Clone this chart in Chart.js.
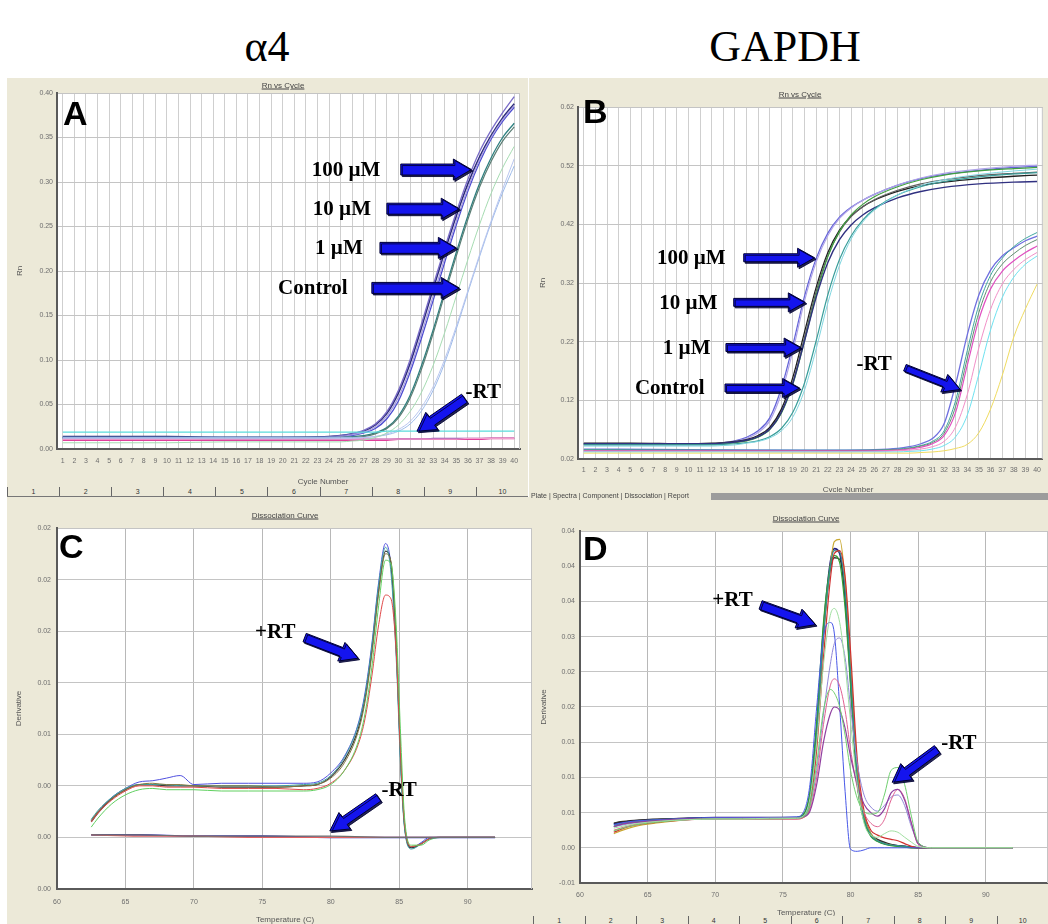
<!DOCTYPE html>
<html>
<head>
<meta charset="utf-8">
<script src="https://cdn.jsdelivr.net/npm/chart.js@4.4.1/dist/chart.umd.min.js"></script>
<style>
  body { margin: 0; background: #fff; width: 1048px; height: 924px; position: relative; overflow: hidden; }
  .head { position: absolute; top: 25px; height: 44px; line-height: 44px; text-align: center;
          font-family: 'Liberation Serif', 'Times New Roman', serif; font-size: 44px; color: #000; }
  .panel { position: absolute; background: #ece9d8; }
  .panel canvas { display: block; }
  .lbl { position: absolute; transform: translate(-50%, -50%); white-space: nowrap;
         font-family: 'Liberation Sans', Arial, sans-serif; font-size: 8px; color: #555; }
  .ttl { text-decoration: underline; color: #444; }
  .tabs { position: absolute; display: flex; background: #ece9d8; border-bottom: 1px solid #777;
          font-family: 'Liberation Sans', Arial, sans-serif; font-size: 7px; color: #333; }
  .tabs div { flex: 1; border-left: 1px solid #666; text-align: center; line-height: 9px; }
  .rtabs { position: absolute; left: 529px; top: 492px; width: 519px; height: 8px; background: #ece9d8; }
  .rtabs span { position: absolute; left: 2px; top: 0; font-family: 'Liberation Sans', Arial, sans-serif;
                font-size: 7px; line-height: 8px; color: #444; }
  .rtabs i { position: absolute; left: 182px; right: 0; top: 1px; height: 7px; background: #9c9c9c; }
</style>
</head>
<body>
<div class="head" style="left:0;width:534px">α4</div>
<div class="head" style="left:535px;width:500px">GAPDH</div>

<div class="panel" style="left:7px;top:78px;width:521px;height:409px"><canvas id="chartA" width="521" height="409"></canvas></div>
<div class="panel" style="left:529px;top:78px;width:519px;height:414px"><canvas id="chartB" width="519" height="414"></canvas></div>
<div class="panel" style="left:7px;top:497px;width:526px;height:427px"><canvas id="chartC" width="526" height="427"></canvas></div>
<div class="panel" style="left:533px;top:500px;width:515px;height:424px"><canvas id="chartD" width="515" height="424"></canvas></div>

<div class="lbl ttl" style="left:283px;top:85px">Rn vs Cycle</div>
<div class="lbl ttl" style="left:800px;top:94px">Rn vs Cycle</div>
<div class="lbl ttl" style="left:285px;top:515px">Dissociation Curve</div>
<div class="lbl ttl" style="left:806px;top:518px">Dissociation Curve</div>
<div class="lbl" style="left:323px;top:481px">Cycle Number</div>
<div class="lbl" style="left:848px;top:489px">Cycle Number</div>
<div class="lbl" style="left:285px;top:919px">Temperature (C)</div>
<div class="lbl" style="left:806px;top:912px">Temperature (C)</div>

<div class="tabs" style="left:7px;top:487px;width:521px;height:9px">
  <div>1</div><div>2</div><div>3</div><div>4</div><div>5</div><div>6</div><div>7</div><div>8</div><div>9</div><div>10</div>
</div>
<div class="rtabs"><span>Plate | Spectra | Component | Dissociation | Report</span><i></i></div>
<div class="tabs" style="left:533px;top:916px;width:515px;height:8px">
  <div>1</div><div>2</div><div>3</div><div>4</div><div>5</div><div>6</div><div>7</div><div>8</div><div>9</div><div>10</div>
</div>

<script>
// ---- tick values and labels ----
const cycleTicks = [1,2,3,4,5,6,7,8,9,10,11,12,13,14,15,16,17,18,19,20,21,22,23,24,25,26,27,28,29,30,31,32,33,34,35,36,37,38,39,40];
const cycleLabels = ["1","2","3","4","5","6","7","8","9","10","11","12","13","14","15","16","17","18","19","20",
                     "21","22","23","24","25","26","27","28","29","30","31","32","33","34","35","36","37","38","39","40"];
const rnTicksA = [0, 0.05, 0.10, 0.15, 0.20, 0.25, 0.30, 0.35, 0.40];
const rnLabelsA = ["0.00","0.05","0.10","0.15","0.20","0.25","0.30","0.35","0.40"];
const rnTicksB = [0.02, 0.12, 0.22, 0.32, 0.42, 0.52, 0.62];
const rnLabelsB = ["0.02","0.12","0.22","0.32","0.42","0.52","0.62"];
const tempTicks = [60, 65, 70, 75, 80, 85, 90];
const tempLabels = ["60","65","70","75","80","85","90"];
const derivTicksC = [-0.004, 0, 0.004, 0.008, 0.012, 0.016, 0.020, 0.024];
const derivLabelsC = ["0.00","0.00","0.00","0.01","0.01","0.02","0.02","0.02"];
const derivTicksD = [-0.005, 0, 0.005, 0.010, 0.015, 0.020, 0.025, 0.030, 0.035, 0.040, 0.045];
const derivLabelsD = ["-0.01","0.00","0.01","0.01","0.01","0.02","0.02","0.03","0.04","0.04","0.04"];

// ---- panel A: alpha4 amplification (Rn vs cycle) ----
const cyclesA = [1,5,10,15,20,24,25,26,27,28,29,30,31,32,33,34,35,36,37,38,39,40];
const rn100a = [0.013,0.013,0.013,0.013,0.013,0.014,0.015,0.017,0.021,0.028,0.042,0.066,0.100,0.141,0.184,0.226,0.266,0.303,0.334,0.358,0.378,0.396];
const rn100b = [0.014,0.014,0.014,0.013,0.013,0.014,0.015,0.017,0.020,0.027,0.040,0.063,0.096,0.137,0.180,0.222,0.262,0.298,0.328,0.352,0.372,0.388];
const rn10a  = [0.013,0.013,0.013,0.013,0.013,0.013,0.014,0.015,0.018,0.023,0.034,0.054,0.086,0.125,0.167,0.210,0.252,0.290,0.322,0.348,0.368,0.384];
const rn10b  = [0.012,0.012,0.012,0.012,0.012,0.013,0.014,0.016,0.019,0.025,0.037,0.058,0.090,0.130,0.172,0.215,0.256,0.293,0.325,0.350,0.370,0.386];
const rn1a   = [0.013,0.013,0.013,0.013,0.013,0.013,0.013,0.014,0.015,0.018,0.024,0.037,0.060,0.094,0.134,0.178,0.221,0.262,0.298,0.327,0.350,0.366];
const rn1b   = [0.012,0.012,0.012,0.012,0.012,0.012,0.013,0.013,0.014,0.017,0.023,0.035,0.057,0.090,0.130,0.174,0.217,0.258,0.294,0.323,0.346,0.362];
const rnCtrlA = [0.013,0.013,0.013,0.013,0.013,0.013,0.013,0.013,0.013,0.014,0.016,0.020,0.028,0.043,0.066,0.097,0.135,0.176,0.216,0.254,0.288,0.318];
const rnCtrlB = [0.007,0.007,0.007,0.008,0.008,0.008,0.008,0.009,0.010,0.013,0.018,0.027,0.042,0.064,0.094,0.131,0.172,0.213,0.252,0.287,0.316,0.340];
const rnCtrlC = [0.012,0.012,0.012,0.012,0.012,0.012,0.012,0.012,0.013,0.014,0.017,0.022,0.031,0.047,0.070,0.101,0.138,0.178,0.218,0.256,0.292,0.326];
const rnRtCyan    = [0.019,0.019,0.019,0.019,0.019,0.019,0.019,0.019,0.019,0.019,0.020,0.020,0.020,0.020,0.020,0.020,0.020,0.020,0.020,0.020,0.020,0.020];
const rnRtMagenta = [0.010,0.010,0.010,0.010,0.010,0.010,0.010,0.010,0.010,0.010,0.010,0.011,0.011,0.011,0.011,0.011,0.011,0.011,0.011,0.012,0.012,0.012];
const rnRtPurple  = [0.012,0.012,0.012,0.011,0.011,0.011,0.011,0.011,0.011,0.011,0.011,0.011,0.011,0.011,0.012,0.012,0.012,0.012,0.012,0.012,0.012,0.012];
const rnRtPink    = [0.011,0.011,0.011,0.011,0.011,0.011,0.011,0.011,0.011,0.011,0.011,0.011,0.011,0.011,0.011,0.011,0.011,0.012,0.012,0.012,0.012,0.012];

// ---- panel B: GAPDH amplification ----
const cyclesB = [1,5,10,12,13,14,15,16,17,18,19,20,21,22,23,24,25,26,28,30,32,35,38,40];
const gb100a  = [0.046,0.045,0.045,0.046,0.048,0.051,0.057,0.068,0.090,0.141,0.215,0.298,0.362,0.405,0.432,0.449,0.461,0.471,0.487,0.498,0.505,0.512,0.517,0.519];
const gb100b  = [0.044,0.044,0.044,0.045,0.047,0.050,0.055,0.065,0.085,0.132,0.205,0.290,0.356,0.401,0.430,0.448,0.461,0.471,0.487,0.499,0.507,0.514,0.519,0.521];
const gb10a   = [0.047,0.047,0.046,0.047,0.048,0.050,0.053,0.060,0.074,0.105,0.160,0.237,0.313,0.372,0.410,0.434,0.450,0.461,0.476,0.486,0.492,0.498,0.502,0.504];
const gb10b   = [0.046,0.046,0.045,0.046,0.047,0.049,0.052,0.058,0.071,0.100,0.152,0.228,0.306,0.367,0.407,0.433,0.450,0.462,0.478,0.489,0.496,0.503,0.507,0.509];
const gb1a    = [0.045,0.045,0.045,0.045,0.046,0.048,0.051,0.057,0.070,0.098,0.148,0.222,0.300,0.365,0.408,0.436,0.454,0.467,0.484,0.496,0.504,0.511,0.515,0.517];
const gb1b    = [0.046,0.046,0.046,0.046,0.047,0.049,0.052,0.058,0.071,0.100,0.150,0.222,0.296,0.355,0.394,0.419,0.436,0.448,0.465,0.476,0.483,0.489,0.492,0.493];
const gbCtrlA = [0.044,0.044,0.044,0.044,0.045,0.046,0.048,0.051,0.058,0.072,0.100,0.150,0.222,0.300,0.360,0.400,0.427,0.446,0.470,0.484,0.493,0.501,0.506,0.508];
const gbCtrlB = [0.042,0.042,0.042,0.042,0.043,0.044,0.047,0.050,0.056,0.068,0.092,0.138,0.208,0.286,0.350,0.395,0.424,0.444,0.470,0.486,0.496,0.505,0.511,0.514];
const cyclesBrt = [1,10,20,26,28,29,30,31,32,33,34,35,36,37,38,39,40];
const gbRt1 = [0.037,0.036,0.035,0.036,0.038,0.041,0.046,0.055,0.080,0.148,0.232,0.300,0.342,0.366,0.380,0.392,0.400];
const gbRt2 = [0.036,0.035,0.035,0.035,0.037,0.039,0.043,0.050,0.068,0.120,0.205,0.283,0.333,0.362,0.382,0.396,0.406];
const gbRt3 = [0.034,0.034,0.034,0.034,0.035,0.037,0.040,0.046,0.060,0.100,0.180,0.258,0.310,0.340,0.358,0.372,0.383];
const gbRt4 = [0.033,0.033,0.032,0.033,0.034,0.035,0.037,0.041,0.050,0.075,0.130,0.210,0.275,0.318,0.343,0.360,0.372];
const gbRt5 = [0.032,0.032,0.032,0.032,0.032,0.033,0.034,0.037,0.043,0.058,0.095,0.165,0.240,0.295,0.330,0.352,0.366];
const gbRt6 = [0.030,0.030,0.030,0.030,0.030,0.030,0.031,0.032,0.034,0.038,0.045,0.065,0.105,0.162,0.228,0.276,0.318];
const gbRt7 = [0.035,0.035,0.034,0.035,0.036,0.038,0.042,0.048,0.064,0.110,0.192,0.270,0.322,0.352,0.370,0.384,0.394];

// ---- panel C: alpha4 dissociation curve ----
const tempsC = [62.5,63,64,65,66,67,68,69,70,72,74,76,78,79,80,81,82,82.5,83,83.5,84,84.4,84.8,85.1,85.4,85.9,86.6,87.2,88,92];
const dcBlue  = [0.0013,0.0020,0.0031,0.0038,0.0043,0.0044,0.0046,0.0048,0.0041,0.0042,0.0042,0.0042,0.0042,0.0043,0.0050,0.0063,0.0088,0.0112,0.0150,0.0198,0.0228,0.0210,0.0140,0.0060,0.0008,-0.0008,-0.0004,0.0000,0.0000,0.0000];
const dcBlack = [0.0012,0.0019,0.0030,0.0037,0.0041,0.0041,0.0040,0.0040,0.0040,0.0039,0.0039,0.0039,0.0040,0.0041,0.0047,0.0060,0.0084,0.0108,0.0145,0.0192,0.0222,0.0212,0.0145,0.0062,0.0008,-0.0008,-0.0005,-0.0001,0.0000,0.0000];
const dcTeal  = [0.0014,0.0021,0.0031,0.0038,0.0041,0.0041,0.0041,0.0040,0.0040,0.0040,0.0040,0.0040,0.0041,0.0042,0.0048,0.0062,0.0087,0.0110,0.0148,0.0196,0.0225,0.0205,0.0135,0.0055,0.0006,-0.0009,-0.0005,-0.0001,0.0000,0.0000];
const dcRed   = [0.0012,0.0019,0.0029,0.0036,0.0040,0.0040,0.0039,0.0039,0.0039,0.0038,0.0038,0.0038,0.0037,0.0038,0.0042,0.0052,0.0072,0.0092,0.0125,0.0165,0.0188,0.0185,0.0140,0.0065,0.0010,-0.0007,-0.0005,-0.0001,0.0000,0.0000];
const dcGreen = [0.0008,0.0015,0.0026,0.0033,0.0037,0.0038,0.0037,0.0037,0.0037,0.0036,0.0036,0.0036,0.0036,0.0037,0.0041,0.0052,0.0074,0.0096,0.0132,0.0180,0.0215,0.0212,0.0160,0.0080,0.0014,-0.0006,-0.0006,-0.0002,0.0000,0.0000];
const dcOlive = [0.0013,0.0020,0.0030,0.0037,0.0041,0.0042,0.0041,0.0041,0.0040,0.0040,0.0040,0.0039,0.0040,0.0041,0.0046,0.0058,0.0082,0.0105,0.0142,0.0190,0.0220,0.0214,0.0150,0.0066,0.0010,-0.0007,-0.0005,-0.0001,0.0000,0.0000];
const tempsCrt = [62.5,66,70,75,80,85,88,92];
const dcRtBlue = [0.0002,0.0002,0.0001,0.0001,0.0000,0.0000,0.0000,0.0000];
const dcRtRed  = [0.0002,0.0001,0.0001,0.0000,0.0000,0.0000,0.0000,0.0000];
const dcRtGray = [0.0002,0.0002,0.0001,0.0001,0.0001,0.0000,0.0000,0.0000];

// ---- panel D: GAPDH dissociation curve ----
const tempsD = [62.5,63,64,66,68,70,72,74,76,76.5,77,77.5,78,78.5,78.8,79.2,79.6,80,80.5,81,81.5,82,82.5,83,83.5,84,84.5,85,86,92];
const dgNavy  = [0.0034,0.0036,0.0038,0.0040,0.0042,0.0043,0.0043,0.0043,0.0043,0.0046,0.0075,0.0170,0.0310,0.0405,0.0425,0.0418,0.0355,0.0240,0.0095,0.0040,0.0018,0.0010,0.0006,0.0004,0.0003,0.0002,0.0001,0.0000,0.0000,0.0000];
const dgOlive = [0.0020,0.0024,0.0030,0.0036,0.0040,0.0042,0.0042,0.0042,0.0042,0.0045,0.0068,0.0155,0.0300,0.0400,0.0435,0.0438,0.0380,0.0265,0.0110,0.0045,0.0020,0.0010,0.0006,0.0004,0.0002,0.0001,0.0000,0.0000,0.0000,0.0000];
const dgGreen = [0.0030,0.0033,0.0036,0.0039,0.0041,0.0042,0.0042,0.0042,0.0043,0.0047,0.0080,0.0180,0.0320,0.0400,0.0415,0.0405,0.0340,0.0230,0.0090,0.0038,0.0016,0.0009,0.0005,0.0003,0.0002,0.0001,0.0000,0.0000,0.0000,0.0000];
const dgTeal  = [0.0032,0.0034,0.0037,0.0040,0.0041,0.0042,0.0043,0.0043,0.0043,0.0045,0.0070,0.0160,0.0300,0.0398,0.0422,0.0420,0.0365,0.0250,0.0100,0.0042,0.0018,0.0010,0.0006,0.0004,0.0003,0.0002,0.0001,0.0000,0.0000,0.0000];
const dgRed   = [0.0022,0.0026,0.0032,0.0037,0.0040,0.0041,0.0041,0.0041,0.0041,0.0043,0.0060,0.0140,0.0270,0.0380,0.0418,0.0422,0.0385,0.0280,0.0125,0.0052,0.0025,0.0018,0.0014,0.0012,0.0010,0.0006,0.0002,0.0000,0.0000,0.0000];
const dgBlack = [0.0035,0.0037,0.0039,0.0041,0.0042,0.0043,0.0043,0.0043,0.0043,0.0045,0.0072,0.0165,0.0305,0.0395,0.0412,0.0410,0.0360,0.0250,0.0105,0.0045,0.0020,0.0012,0.0008,0.0005,0.0003,0.0002,0.0001,0.0000,0.0000,0.0000];
const dgBlue  = [0.0033,0.0035,0.0038,0.0040,0.0042,0.0043,0.0043,0.0043,0.0044,0.0050,0.0090,0.0200,0.0300,0.0320,0.0305,0.0200,0.0080,-0.0002,-0.0005,-0.0003,0.0000,0.0000,0.0000,0.0000,0.0000,0.0000,0.0000,0.0000,0.0000,0.0000];
const dgLavender = [0.0030,0.0032,0.0035,0.0038,0.0040,0.0041,0.0042,0.0042,0.0043,0.0044,0.0060,0.0110,0.0190,0.0260,0.0290,0.0298,0.0270,0.0200,0.0120,0.0075,0.0058,0.0052,0.0060,0.0072,0.0075,0.0060,0.0030,0.0008,0.0000,0.0000];
const dgPink   = [0.0025,0.0028,0.0033,0.0038,0.0040,0.0041,0.0041,0.0041,0.0041,0.0043,0.0055,0.0100,0.0175,0.0230,0.0240,0.0230,0.0195,0.0140,0.0085,0.0050,0.0035,0.0030,0.0040,0.0068,0.0083,0.0070,0.0035,0.0005,0.0000,0.0000];
const dgPurple = [0.0030,0.0033,0.0036,0.0039,0.0041,0.0042,0.0042,0.0042,0.0042,0.0044,0.0052,0.0090,0.0150,0.0190,0.0200,0.0195,0.0170,0.0130,0.0090,0.0062,0.0050,0.0045,0.0055,0.0078,0.0083,0.0068,0.0035,0.0006,0.0000,0.0000];
const dgLightGreen = [0.0024,0.0027,0.0032,0.0037,0.0040,0.0041,0.0041,0.0041,0.0042,0.0044,0.0060,0.0120,0.0195,0.0225,0.0220,0.0200,0.0160,0.0110,0.0070,0.0052,0.0048,0.0050,0.0075,0.0110,0.0114,0.0090,0.0045,0.0008,0.0000,0.0000];
const dgPaleGreen  = [0.0028,0.0030,0.0034,0.0038,0.0040,0.0041,0.0041,0.0042,0.0042,0.0045,0.0070,0.0150,0.0260,0.0330,0.0340,0.0320,0.0260,0.0180,0.0090,0.0035,0.0018,0.0015,0.0020,0.0024,0.0022,0.0015,0.0008,0.0002,0.0000,0.0000];

// ---- arrow annotations (in data units) ----
const arrowsA = [
  { text: "100 µM", tx: 22.5, ty: 0.314, x0: 30.2, y0: 0.314, x1: 36.3, y1: 0.314 },
  { text: "10 µM", tx: 22.6, ty: 0.270, x0: 29.0, y0: 0.270, x1: 35.25, y1: 0.270 },
  { text: "1 µM", tx: 22.8, ty: 0.226, x0: 28.4, y0: 0.226, x1: 35.0, y1: 0.226 },
  { text: "Control", tx: 19.6, ty: 0.181, x0: 27.7, y0: 0.181, x1: 35.25, y1: 0.181 },
  { text: "-RT", tx: 35.8, ty: 0.065, x0: 35.7, y0: 0.057, x1: 31.6, y1: 0.020 }
];
const arrowsB = [
  { text: "100 µM", tx: 7.3, ty: 0.363, x0: 14.76, y0: 0.363, x1: 20.86, y1: 0.363 },
  { text: "10 µM", tx: 7.5, ty: 0.287, x0: 13.9, y0: 0.287, x1: 20.06, y1: 0.287 },
  { text: "1 µM", tx: 7.8, ty: 0.210, x0: 13.23, y0: 0.210, x1: 19.7, y1: 0.210 },
  { text: "Control", tx: 5.4, ty: 0.141, x0: 13.15, y0: 0.141, x1: 19.57, y1: 0.141 },
  { text: "-RT", tx: 24.46, ty: 0.182, x0: 28.63, y0: 0.1756, x1: 33.38, y1: 0.1385 }
];
const arrowsC = [
  { text: "+RT", tx: 74.47, ty: 0.0160, x0: 78.09, y0: 0.0155, x1: 82.0, y1: 0.0139 },
  { text: "-RT", tx: 83.7, ty: 0.0037, x0: 83.47, y0: 0.0031, x1: 79.93, y1: 0.0005 }
];
const arrowsD = [
  { text: "+RT", tx: 69.78, ty: 0.0352, x0: 73.35, y0: 0.0345, x1: 77.41, y1: 0.0317 },
  { text: "-RT", tx: 86.7, ty: 0.0150, x0: 86.4, y0: 0.0140, x1: 83.08, y1: 0.0093 }
];

const sans = "'Liberation Sans', Arial, sans-serif";

function series(xs, ys, color, width) {
  return {
    data: xs.map((x, i) => ({ x: x, y: ys[i] })),
    borderColor: color,
    borderWidth: width || 1,
    pointRadius: 0,
    cubicInterpolationMode: 'monotone',
    fill: false
  };
}

function blockArrow(ctx, x0, y0, x1, y1, body, head, headLen) {
  const dx = x1 - x0, dy = y1 - y0, len = Math.hypot(dx, dy);
  const ux = dx / len, uy = dy / len, px = -uy, py = ux;
  const bx = x1 - ux * headLen, by = y1 - uy * headLen;
  const b = body / 2, h = head / 2;
  ctx.beginPath();
  ctx.moveTo(x0 + px * b, y0 + py * b);
  ctx.lineTo(bx + px * b, by + py * b);
  ctx.lineTo(bx + px * h, by + py * h);
  ctx.lineTo(x1, y1);
  ctx.lineTo(bx - px * h, by - py * h);
  ctx.lineTo(bx - px * b, by - py * b);
  ctx.lineTo(x0 - px * b, y0 - py * b);
  ctx.closePath();
  ctx.fill();
  ctx.stroke();
}

// white plot area, frame, panel letter and arrows
function overlay(letter, ldx, ldy, arrows, size) {
  return {
    id: 'overlay' + letter,
    beforeDatasetsDraw(chart) {
      const a = chart.chartArea, ctx = chart.ctx;
      ctx.save();
      ctx.strokeStyle = '#c4c4c4';
      ctx.lineWidth = 1;
      ctx.beginPath();
      ctx.moveTo(a.right - 0.5, a.top);
      ctx.lineTo(a.right - 0.5, a.bottom);
      ctx.stroke();
      ctx.restore();
    },
    beforeDraw(chart) {
      const a = chart.chartArea, ctx = chart.ctx;
      ctx.save();
      ctx.fillStyle = '#ffffff';
      ctx.fillRect(a.left, a.top, a.right - a.left, a.bottom - a.top);
      ctx.restore();
    },
    afterDatasetsDraw(chart) {
      const a = chart.chartArea, ctx = chart.ctx;
      const sx = chart.scales.x, sy = chart.scales.y;
      ctx.save();
      arrows.forEach(ar => {
        const horizontal = ar.y0 === ar.y1;
        ctx.fillStyle = '#1414ee';
        ctx.strokeStyle = '#000033';
        ctx.lineWidth = 1;
        ctx.shadowColor = 'rgba(0,0,50,0.85)';
        ctx.shadowOffsetX = 1.5;
        ctx.shadowOffsetY = 1.5;
        blockArrow(ctx, sx.getPixelForValue(ar.x0), sy.getPixelForValue(ar.y0),
                   sx.getPixelForValue(ar.x1), sy.getPixelForValue(ar.y1),
                   horizontal ? size.body : size.body - 1, size.head, size.len);
        ctx.shadowColor = 'transparent';
        ctx.fillStyle = '#000';
        ctx.font = "bold 21px 'Liberation Serif', 'Times New Roman', serif";
        ctx.textAlign = 'left';
        ctx.textBaseline = 'middle';
        ctx.fillText(ar.text, sx.getPixelForValue(ar.tx), sy.getPixelForValue(ar.ty) + 1);
      });
      ctx.fillStyle = '#000';
      ctx.font = "bold 34px " + sans;
      ctx.textAlign = 'left';
      ctx.textBaseline = 'alphabetic';
      ctx.fillText(letter, a.left + ldx, a.top + ldy);
      ctx.restore();
    }
  };
}

function makeChart(id, datasets, g) {
  new Chart(document.getElementById(id), {
    type: 'line',
    data: { datasets: datasets },
    options: {
      responsive: false,
      animation: false,
      devicePixelRatio: 1,
      events: [],
      layout: { padding: { left: 0, right: g.padR, top: g.padT, bottom: g.padB } },
      plugins: { legend: { display: false }, tooltip: { enabled: false }, title: { display: false } },
      scales: {
        x: {
          type: 'linear', min: g.xMin, max: g.xMax,
          afterBuildTicks: s => { s.ticks = g.xTicks.map(v => ({ value: v })); },
          afterFit: s => { s.height = g.xH; },
          ticks: { autoSkip: false, maxRotation: 0, minRotation: 0, padding: g.xPad, color: '#6e6e6e',
                   font: { family: sans, size: 7 }, callback: (v, i) => g.xLabels[i] },
          grid: { color: g.gridX, lineWidth: 1, drawTicks: false },
          border: { display: true, color: '#5a5a5a', width: 2 }
        },
        y: {
          type: 'linear', min: g.yMin, max: g.yMax,
          afterBuildTicks: s => { s.ticks = g.yTicks.map(v => ({ value: v })); },
          afterFit: s => { s.width = g.yW; },
          ticks: { padding: g.yPad, color: '#6e6e6e', font: { family: sans, size: 7 },
                   callback: (v, i) => g.yLabels[i] },
          grid: { color: g.gridY, lineWidth: 1, drawTicks: false },
          border: { display: true, color: '#5a5a5a', width: 2 },
          title: { display: true, text: g.yTitle, color: '#555', font: { family: sans, size: 8 },
                   padding: { top: g.yTitlePad, bottom: 0 } }
        }
      }
    },
    plugins: [overlay(g.letter, g.ldx, g.ldy, g.arrows, g.arrowSize)]
  });
}

makeChart('chartA', [
  series(cyclesA, rnRtCyan, '#5adcdc', 1.2),
  series(cyclesA, rnCtrlB, '#a6dcb2', 1),
  series(cyclesA, rnCtrlC, '#b9c6ef', 1),
  series(cyclesA, rnCtrlA, '#9dbbea', 1),
  series(cyclesA, rnRtPink, '#f2a0cc', 1.2),
  series(cyclesA, rnRtPurple, '#8a4bb0', 1.2),
  series(cyclesA, rnRtMagenta, '#e0409c', 1.8),
  series(cyclesA, rn1b, '#5b7d74', 1.2),
  series(cyclesA, rn1a, '#2e8080', 1.3),
  series(cyclesA, rn10b, '#a79de0', 1.2),
  series(cyclesA, rn10a, '#4b4bd0', 1.3),
  series(cyclesA, rn100a, '#7a6cc8', 1.3),
  series(cyclesA, rn100b, '#2c2c78', 1.6)
], {
  xMin: 0.5, xMax: 40.5, xTicks: cycleTicks, xLabels: cycleLabels,
  yMin: 0, yMax: 0.4, yTicks: rnTicksA, yLabels: rnLabelsA, yTitle: 'Rn',
  padR: 8, padT: 15, padB: 8, xH: 30, yW: 50, xPad: 8, yPad: 4, yTitlePad: 8,
  gridX: '#cfcfcf', gridY: '#c4c4c4',
  letter: 'A', ldx: 6, ldy: 32, arrows: arrowsA, arrowSize: { body: 11, head: 21, len: 18 }
});

makeChart('chartB', [
  series(cyclesBrt, gbRt6, '#f0dc60', 1),
  series(cyclesBrt, gbRt5, '#6ee2f0', 1),
  series(cyclesBrt, gbRt4, '#f290c8', 1),
  series(cyclesBrt, gbRt3, '#e050c0', 1.2),
  series(cyclesBrt, gbRt7, '#5f9070', 1),
  series(cyclesBrt, gbRt2, '#40a8a0', 1),
  series(cyclesBrt, gbRt1, '#7070e0', 1.3),
  series(cyclesB, gbCtrlB, '#80d6e0', 1),
  series(cyclesB, gbCtrlA, '#3a9e9a', 1.2),
  series(cyclesB, gb1b, '#303080', 1.4),
  series(cyclesB, gb1a, '#40a040', 1.2),
  series(cyclesB, gb10b, '#606060', 1.2),
  series(cyclesB, gb10a, '#202020', 1.3),
  series(cyclesB, gb100b, '#b0a4e8', 1.2),
  series(cyclesB, gb100a, '#6666d8', 1.3)
], {
  xMin: 0.5, xMax: 40.5, xTicks: cycleTicks, xLabels: cycleLabels,
  yMin: 0.02, yMax: 0.62, yTicks: rnTicksB, yLabels: rnLabelsB, yTitle: 'Rn',
  padR: 5, padT: 29, padB: 7, xH: 26, yW: 49, xPad: 7, yPad: 4, yTitlePad: 9,
  gridX: '#cfcfcf', gridY: '#c4c4c4',
  letter: 'B', ldx: 5, ldy: 16, arrows: arrowsB, arrowSize: { body: 8, head: 19, len: 17 }
});

makeChart('chartC', [
  series(tempsCrt, dcRtGray, '#707070', 1.2),
  series(tempsCrt, dcRtRed, '#e06060', 1.2),
  series(tempsCrt, dcRtBlue, '#3030c0', 1.6),
  series(tempsC, dcGreen, '#60d060', 1),
  series(tempsC, dcRed, '#e04848', 1),
  series(tempsC, dcOlive, '#807840', 1),
  series(tempsC, dcTeal, '#40a0a0', 1),
  series(tempsC, dcBlack, '#383838', 1.2),
  series(tempsC, dcBlue, '#5050e0', 1)
], {
  xMin: 60, xMax: 94.7, xTicks: tempTicks, xLabels: tempLabels,
  yMin: -0.004, yMax: 0.024, yTicks: derivTicksC, yLabels: derivLabelsC, yTitle: 'Derivative',
  padR: 1, padT: 31, padB: 7, xH: 28, yW: 50, xPad: 9, yPad: 6, yTitlePad: 7,
  gridX: '#b8b8b8', gridY: '#c4c4c4',
  letter: 'C', ldx: 2, ldy: 30, arrows: arrowsC, arrowSize: { body: 10, head: 20, len: 18 }
});

makeChart('chartD', [
  series(tempsD, dgPaleGreen, '#a0e0a0', 1),
  series(tempsD, dgLightGreen, '#70d070', 1),
  series(tempsD, dgPurple, '#9040a0', 1.2),
  series(tempsD, dgPink, '#e06090', 1),
  series(tempsD, dgLavender, '#9088d8', 1),
  series(tempsD, dgBlue, '#4858e8', 1),
  series(tempsD, dgRed, '#d03030', 1.2),
  series(tempsD, dgTeal, '#309090', 1.2),
  series(tempsD, dgGreen, '#30a030', 1.2),
  series(tempsD, dgOlive, '#c8a830', 1.2),
  series(tempsD, dgBlack, '#303030', 1.3),
  series(tempsD, dgNavy, '#202080', 1.6)
], {
  xMin: 60, xMax: 94.6, xTicks: tempTicks, xLabels: tempLabels,
  yMin: -0.005, yMax: 0.045, yTicks: derivTicksD, yLabels: derivLabelsD, yTitle: 'Derivative',
  padR: 0, padT: 31, padB: 13, xH: 28, yW: 47, xPad: 8, yPad: 5, yTitlePad: 6,
  gridX: '#b8b8b8', gridY: '#c4c4c4',
  letter: 'D', ldx: 3, ldy: 29, arrows: arrowsD, arrowSize: { body: 10, head: 20, len: 18 }
});
</script>
</body>
</html>
